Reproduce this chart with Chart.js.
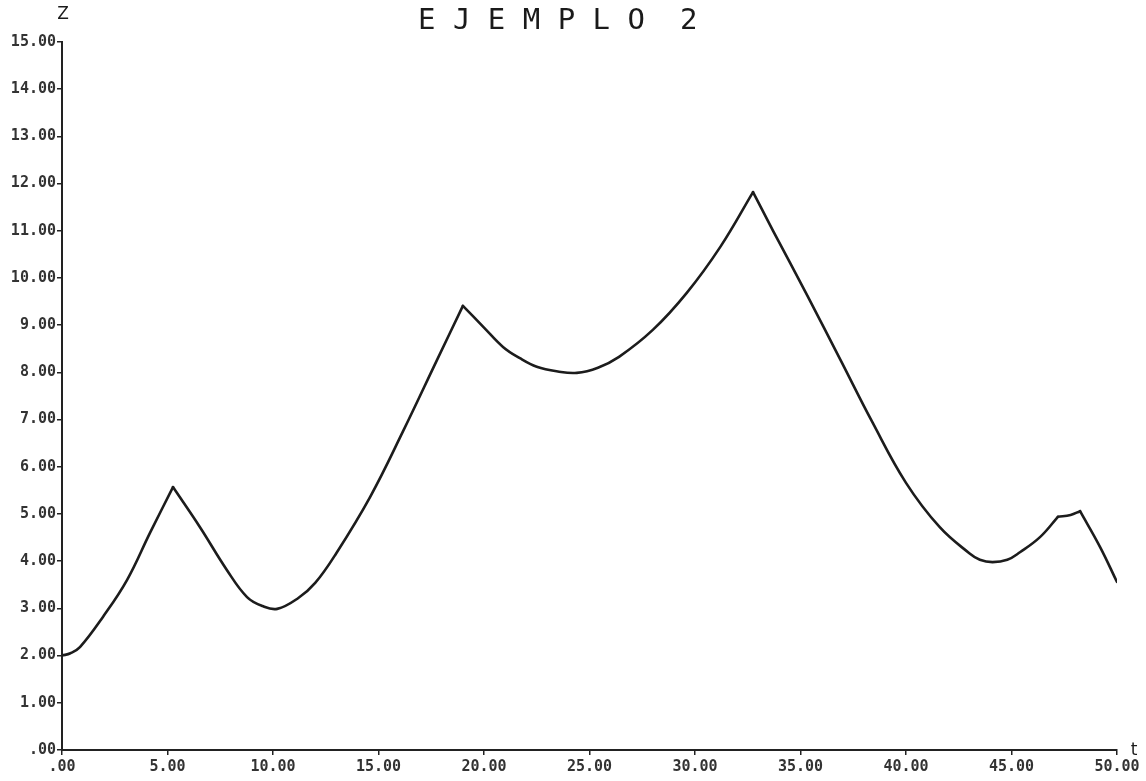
<!DOCTYPE html>
<html>
<head>
<meta charset="utf-8">
<script src="https://cdn.jsdelivr.net/npm/chart.js@4/dist/chart.umd.min.js"></script>
<style>
  html, body { margin: 0; padding: 0; background: #fff; }
  #wrap { width: 1146px; height: 781px; position: relative; }
</style>
</head>
<body>
<div id="wrap"><canvas id="c" width="1146" height="781"></canvas></div>
<script>
// Curve samples: time t and height Z
const tValues = [0, 0.4, 0.85, 1.94, 3.08, 4.17, 5.26, 6.54, 7.82, 8.77, 9.5, 10.2, 11.2, 12.0, 13.0, 14.6, 16.16, 17.77, 19.0,
                 20.0, 20.9, 21.7, 22.5, 23.5, 24.4, 25.4, 26.4, 28.0, 29.6, 31.2, 32.75,
                 33.7, 35.3, 36.9, 38.4, 40.0, 41.6, 43.0, 43.5, 44.1, 44.8, 45.4, 46.35, 47.2, 47.8, 48.25, 49.2, 50.0];
const zValues = [2.0, 2.05, 2.18, 2.82, 3.60, 4.60, 5.57, 4.72, 3.81, 3.24, 3.05, 2.99, 3.22, 3.54, 4.17, 5.36, 6.75, 8.26, 9.41,
                 8.95, 8.54, 8.30, 8.12, 8.02, 7.99, 8.10, 8.33, 8.90, 9.68, 10.66, 11.82,
                 11.00, 9.65, 8.26, 6.95, 5.66, 4.72, 4.17, 4.03, 3.98, 4.03, 4.19, 4.51, 4.94, 4.98, 5.06, 4.30, 3.56];
// times where the curve has a sharp corner
const cornerTimes = [5.26, 19.0, 32.75, 47.2, 48.25];

const xTickValues = [0, 5, 10, 15, 20, 25, 30, 35, 40, 45, 50];
const yTickValues = [0, 1, 2, 3, 4, 5, 6, 7, 8, 9, 10, 11, 12, 13, 14, 15];

const titleText = 'E J E M P L O  2';
const yAxisName = 'Z';
const xAxisName = 't';

// Split the curve at the corners so each smooth arc is drawn on its own
const points = tValues.map((t, i) => ({ x: t, y: zValues[i] }));
const arcs = [];
let current = [];
points.forEach(p => {
  current.push(p);
  if (cornerTimes.includes(p.x)) {
    arcs.push(current);
    current = [p];
  }
});
if (current.length > 1) arcs.push(current);

const datasets = arcs.map(arc => ({
  data: arc,
  showLine: true,
  borderColor: '#1c1c1c',
  borderWidth: 2.6,
  borderJoinStyle: 'round',
  borderCapStyle: 'round',
  pointRadius: 0,
  tension: 0.4,
  fill: false
}));

// plotter-style number labels: ".00", "5.00", ...
const fmt = v => (v === 0 ? '.00' : v.toFixed(2));

const tickFont = { family: 'DejaVu Sans Mono', size: 15, weight: 'bold' };

const decorations = {
  id: 'decorations',
  afterDraw(chart) {
    const ctx = chart.ctx;
    const area = chart.chartArea;
    ctx.save();
    ctx.fillStyle = '#1a1a1a';
    ctx.textBaseline = 'middle';
    ctx.font = '29px "DejaVu Sans Mono"';
    ctx.textAlign = 'left';
    ctx.fillText(titleText, 418, 21);
    ctx.font = '17px "DejaVu Sans"';
    ctx.textAlign = 'center';
    ctx.fillText(yAxisName, area.left + 1, 15);
    ctx.fillText(xAxisName, area.right + 17, area.bottom + 1);
    ctx.restore();
  }
};

new Chart(document.getElementById('c'), {
  type: 'scatter',
  data: { datasets },
  options: {
    responsive: false,
    animation: false,
    layout: { padding: { top: 42, right: 29, left: 0, bottom: 0 } },
    plugins: { legend: { display: false }, tooltip: { enabled: false }, title: { display: false } },
    scales: {
      x: {
        type: 'linear',
        min: 0, max: 50,
        afterBuildTicks: s => { s.ticks = xTickValues.map(v => ({ value: v })); },
        afterFit: s => { s.height = 31; },
        ticks: { callback: fmt, color: '#333', font: tickFont, padding: 3, maxRotation: 0, autoSkip: false },
        grid: { drawOnChartArea: false, drawTicks: true, tickLength: 5, color: '#222', lineWidth: 1.5 },
        border: { display: true, color: '#222', width: 2 }
      },
      y: {
        type: 'linear',
        min: 0, max: 15,
        afterBuildTicks: s => { s.ticks = yTickValues.map(v => ({ value: v })); },
        afterFit: s => { s.width = 62; },
        ticks: { callback: fmt, color: '#333', font: tickFont, padding: 1, autoSkip: false },
        grid: { drawOnChartArea: false, drawTicks: true, tickLength: 5, color: '#222', lineWidth: 1.5 },
        border: { display: true, color: '#222', width: 2 }
      }
    }
  },
  plugins: [decorations]
});
</script>
</body>
</html>
